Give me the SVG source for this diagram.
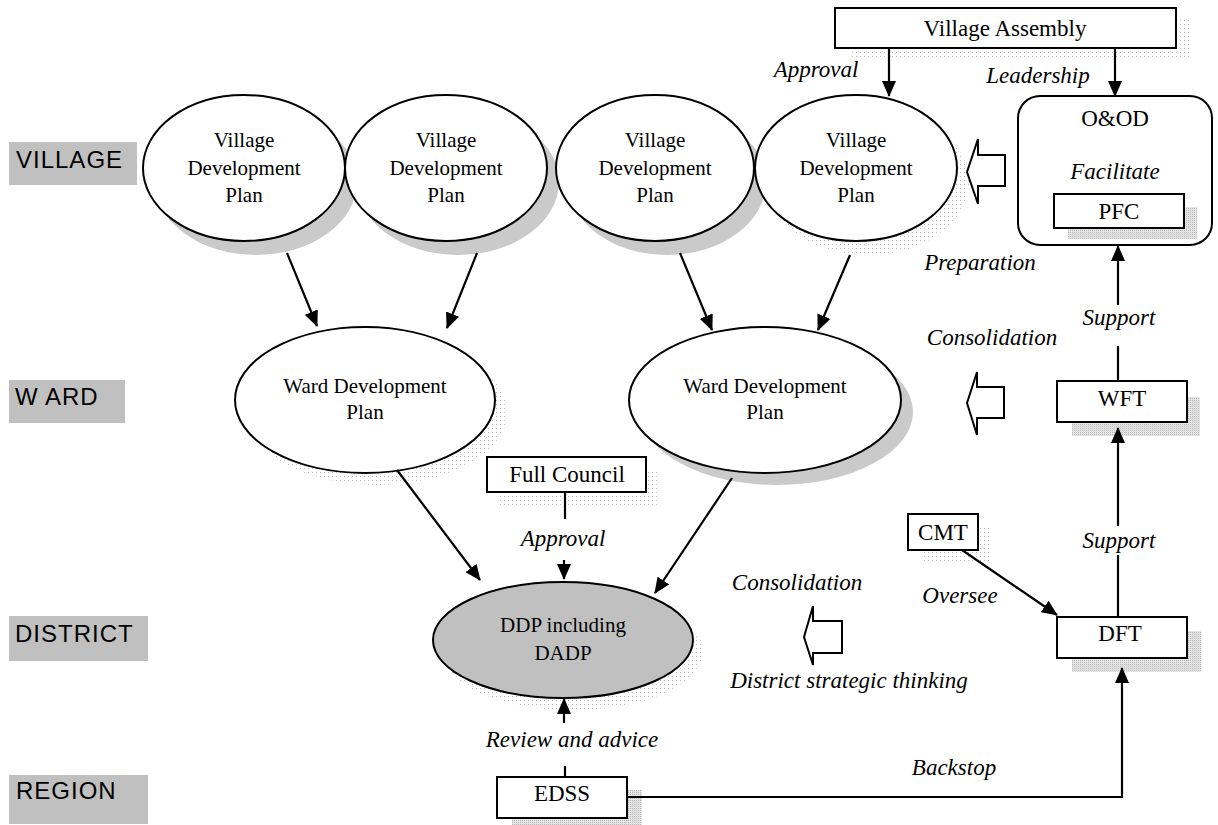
<svg xmlns="http://www.w3.org/2000/svg" width="1218" height="825" viewBox="0 0 1218 825">
<style>
.lbl{fill:#c0c0c0}
.lt{font-family:"Liberation Sans",Arial,sans-serif;font-size:24px;letter-spacing:1px;fill:#000}
.node{fill:#fff;stroke:#000;stroke-width:2}
.t{font-family:"Liberation Serif","Times New Roman",serif;font-size:23px;fill:#000;text-anchor:middle}
.te{font-family:"Liberation Serif","Times New Roman",serif;font-size:21px;fill:#000;text-anchor:middle}
.it{font-family:"Liberation Serif","Times New Roman",serif;font-size:23px;font-style:italic;fill:#000;text-anchor:middle}
.heavy{fill:#cacaca}
.med{fill:url(#grid)}
.light{fill:url(#dots)}
.c{stroke:#000;stroke-width:2.2;fill:none}
.ca{stroke:#000;stroke-width:2.2;fill:none;marker-end:url(#ah)}
.blk{fill:#fff;stroke:#000;stroke-width:2}
</style>
<defs>
<pattern id="dots" width="4" height="4" patternUnits="userSpaceOnUse"><rect width="1" height="1" fill="#bdbdbd"/></pattern>
<pattern id="grid" width="2" height="2" patternUnits="userSpaceOnUse"><rect width="2" height="2" fill="#e4e4e4"/><rect width="1" height="1" fill="#b8b8b8"/></pattern>
<marker id="ah" markerWidth="16" markerHeight="14" refX="15" refY="7" orient="auto" markerUnits="userSpaceOnUse"><path d="M0,0 L16,7 L0,14 Z" fill="#000"/></marker>
</defs>

<g id="levels">
<rect class="lbl" x="9" y="142" width="128" height="43"/><text class="lt" x="16" y="168">VILLAGE</text>
<rect class="lbl" x="9" y="380" width="116" height="43"/><text class="lt" x="15" y="405">W ARD</text>
<rect class="lbl" x="9" y="616" width="139" height="45"/><text class="lt" x="15" y="642">DISTRICT</text>
<rect class="lbl" x="9" y="775" width="139" height="49"/><text class="lt" x="16" y="799">REGION</text>
</g>

<g id="village-assembly">
<rect class="light" x="850" y="20" width="340" height="40"/>
<rect class="node" x="835" y="8" width="341" height="40"/>
<text class="t" x="1005" y="36">Village Assembly</text>
</g>

<g id="vdp1">
<ellipse class="heavy" cx="256" cy="182" rx="101" ry="73"/>
<ellipse class="node" cx="244" cy="168" rx="101" ry="73"/>
<text class="te" x="244" y="147">Village</text><text class="te" x="244" y="175">Development</text><text class="te" x="244" y="202">Plan</text>
</g>
<g id="vdp2">
<ellipse class="heavy" cx="458" cy="182" rx="101" ry="73"/>
<ellipse class="node" cx="446" cy="168" rx="101" ry="73"/>
<text class="te" x="446" y="147">Village</text><text class="te" x="446" y="175">Development</text><text class="te" x="446" y="202">Plan</text>
</g>
<g id="vdp3">
<ellipse class="heavy" cx="667" cy="182" rx="99" ry="73"/>
<ellipse class="node" cx="655" cy="168" rx="99" ry="73"/>
<text class="te" x="655" y="147">Village</text><text class="te" x="655" y="175">Development</text><text class="te" x="655" y="202">Plan</text>
</g>
<g id="vdp4">
<ellipse class="light" cx="868" cy="182" rx="101" ry="73"/>
<ellipse class="node" cx="856" cy="168" rx="101" ry="73"/>
<text class="te" x="856" y="147">Village</text><text class="te" x="856" y="175">Development</text><text class="te" x="856" y="202">Plan</text>
</g>

<g id="ood">
<rect class="node" x="1018" y="96" width="194" height="149" rx="22"/>
<text class="t" x="1115" y="126">O&amp;OD</text>
<text class="it" x="1115" y="179">Facilitate</text>
<rect class="med" x="1068" y="207" width="129" height="32"/>
<rect class="node" x="1054" y="194" width="130" height="34"/>
<text class="t" x="1119" y="219">PFC</text>
</g>

<g id="wdp1">
<ellipse class="light" cx="377" cy="412" rx="130" ry="73"/>
<ellipse class="node" cx="365" cy="400" rx="130" ry="73"/>
<text class="te" x="365" y="393">Ward Development</text><text class="te" x="365" y="419">Plan</text>
</g>
<g id="wdp2">
<ellipse class="heavy" cx="777" cy="412" rx="136" ry="73"/>
<ellipse class="node" cx="765" cy="400" rx="136" ry="73"/>
<text class="te" x="765" y="393">Ward Development</text><text class="te" x="765" y="419">Plan</text>
</g>

<g id="wft">
<rect class="med" x="1072" y="397" width="128" height="39"/>
<rect class="node" x="1057" y="381" width="130" height="41"/>
<text class="t" x="1122" y="406">WFT</text>
</g>

<g id="full-council">
<rect class="light" x="500" y="470" width="160" height="38"/>
<rect class="node" x="487" y="457" width="159" height="35"/>
<text class="t" x="567" y="482">Full Council</text>
</g>

<g id="cmt">
<rect class="light" x="922" y="527" width="70" height="36"/>
<rect class="node" x="908" y="514" width="70" height="36"/>
<text class="t" x="943" y="540">CMT</text>
</g>

<g id="ddp">
<ellipse class="light" cx="573" cy="652" rx="130" ry="58"/>
<ellipse cx="563" cy="640" rx="130" ry="58" fill="#c0c0c0" stroke="#000" stroke-width="2"/>
<text class="te" x="563" y="632">DDP including</text><text class="te" x="563" y="660">DADP</text>
</g>

<g id="dft">
<rect class="med" x="1072" y="631" width="129" height="41"/>
<rect class="node" x="1057" y="617" width="130" height="41"/>
<text class="t" x="1120" y="641">DFT</text>
</g>

<g id="edss">
<rect class="med" x="512" y="790" width="130" height="35"/>
<rect class="node" x="497" y="777" width="130" height="41"/>
<text class="t" x="562" y="801">EDSS</text>
</g>

<g id="block-arrows">
<path class="blk" d="M967,172 L978,139 L978,155 L1005,155 L1005,186 L978,186 L978,204 Z"/>
<path class="blk" d="M967,403 L977,372 L977,387 L1004,387 L1004,418 L977,418 L977,435 Z"/>
<path class="blk" d="M804,637 L813,606 L813,621 L842,621 L842,653 L813,653 L813,665 Z"/>
</g>

<g id="connectors">
<line class="ca" x1="889" y1="48" x2="889" y2="96"/>
<line class="ca" x1="1115" y1="48" x2="1115" y2="96"/>
<line class="ca" x1="287" y1="253" x2="317" y2="326"/>
<line class="ca" x1="477" y1="253" x2="447" y2="328"/>
<line class="ca" x1="680" y1="253" x2="712" y2="330"/>
<line class="ca" x1="850" y1="255" x2="818" y2="330"/>
<line class="ca" x1="397" y1="470" x2="480" y2="580"/>
<line class="ca" x1="732" y1="478" x2="655" y2="593"/>
<line class="c" x1="565" y1="492" x2="565" y2="519"/>
<line class="ca" x1="564" y1="560" x2="564" y2="579"/>
<line class="c" x1="565" y1="766" x2="565" y2="777"/>
<line class="ca" x1="564" y1="723" x2="564" y2="699"/>
<polyline class="ca" points="627,797 1122,797 1122,668"/>
<line class="ca" x1="962" y1="550" x2="1057" y2="615"/>
<line class="c" x1="1118" y1="617" x2="1118" y2="555"/>
<line class="ca" x1="1118" y1="526" x2="1118" y2="428"/>
<line class="c" x1="1118" y1="381" x2="1118" y2="346"/>
<line class="ca" x1="1118" y1="305" x2="1118" y2="246"/>
</g>

<g id="labels">
<text class="it" x="816" y="77">Approval</text>
<text class="it" x="1038" y="83">Leadership</text>
<text class="it" x="980" y="270">Preparation</text>
<text class="it" x="1119" y="325">Support</text>
<text class="it" x="992" y="345">Consolidation</text>
<text class="it" x="563" y="546">Approval</text>
<text class="it" x="1119" y="548">Support</text>
<text class="it" x="797" y="590">Consolidation</text>
<text class="it" x="960" y="603">Oversee</text>
<text class="it" x="849" y="688">District strategic thinking</text>
<text class="it" x="572" y="747">Review and advice</text>
<text class="it" x="954" y="775">Backstop</text>
</g>
</svg>
